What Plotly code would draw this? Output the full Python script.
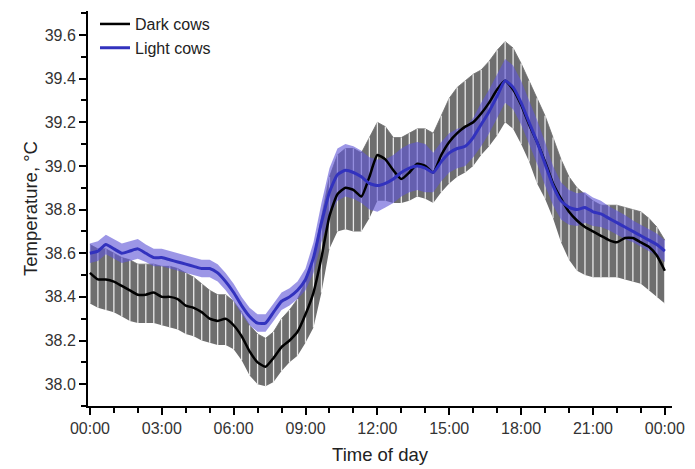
import plotly.graph_objects as go

# time of day in hours, every 20 minutes
hours = [i / 3 for i in range(73)]

dark_mean = [38.51, 38.48, 38.48, 38.47, 38.45, 38.43, 38.41, 38.41, 38.42, 38.40,
             38.40, 38.39, 38.36, 38.35, 38.33, 38.30, 38.29, 38.30, 38.27, 38.22,
             38.15, 38.10, 38.08, 38.12, 38.17, 38.20, 38.24, 38.32, 38.42, 38.58,
             38.77, 38.87, 38.90, 38.89, 38.86, 38.95, 39.05, 39.03, 38.98, 38.94,
             38.97, 39.01, 39.00, 38.97, 39.05, 39.11, 39.15, 39.18, 39.20, 39.24,
             39.29, 39.35, 39.39, 39.35, 39.28, 39.19, 39.11, 39.02, 38.92, 38.85,
             38.79, 38.75, 38.72, 38.70, 38.68, 38.66, 38.65, 38.67, 38.67, 38.65,
             38.63, 38.59, 38.52]

dark_upper = [38.64, 38.62, 38.62, 38.60, 38.58, 38.57, 38.55, 38.55, 38.55, 38.54,
              38.54, 38.53, 38.51, 38.49, 38.46, 38.43, 38.41, 38.41, 38.38, 38.33,
              38.27, 38.23, 38.21, 38.24, 38.30, 38.34, 38.39, 38.47, 38.58, 38.76,
              38.95, 39.05, 39.08, 39.08, 39.06, 39.13, 39.20, 39.18, 39.13, 39.13,
              39.15, 39.17, 39.17, 39.15, 39.23, 39.31, 39.36, 39.39, 39.42, 39.44,
              39.48, 39.53, 39.57, 39.54, 39.47, 39.39, 39.31, 39.23, 39.13, 39.03,
              38.95, 38.90, 38.87, 38.84, 38.82, 38.82, 38.82, 38.81, 38.80, 38.79,
              38.76, 38.72, 38.66]

dark_lower = [38.37, 38.35, 38.34, 38.33, 38.31, 38.29, 38.28, 38.28, 38.28, 38.27,
              38.26, 38.25, 38.23, 38.22, 38.20, 38.19, 38.18, 38.18, 38.16, 38.11,
              38.04, 38.00, 37.99, 38.01, 38.06, 38.10, 38.13, 38.19, 38.26, 38.42,
              38.62, 38.70, 38.71, 38.70, 38.70, 38.76, 38.84, 38.84, 38.83, 38.83,
              38.84, 38.86, 38.85, 38.83, 38.88, 38.92, 38.95, 38.97, 39.00, 39.05,
              39.09, 39.14, 39.20, 39.17, 39.10, 39.02, 38.92, 38.85, 38.76, 38.65,
              38.57, 38.52, 38.50, 38.49, 38.49, 38.49, 38.49, 38.48, 38.47, 38.46,
              38.43, 38.40, 38.37]

light_mean = [38.60, 38.61, 38.64, 38.62, 38.60, 38.61, 38.62, 38.60, 38.58, 38.58,
              38.57, 38.56, 38.55, 38.54, 38.53, 38.53, 38.51, 38.47, 38.42, 38.36,
              38.31, 38.28, 38.28, 38.33, 38.38, 38.40, 38.43, 38.48, 38.58, 38.74,
              38.88, 38.96, 38.98, 38.97, 38.95, 38.92, 38.91, 38.92, 38.94, 38.97,
              38.99, 39.00, 38.99, 38.97, 39.02, 39.06, 39.08, 39.09, 39.13, 39.19,
              39.25, 39.32, 39.39, 39.36, 39.29, 39.20, 39.11, 39.01, 38.91, 38.84,
              38.81, 38.80, 38.81, 38.79, 38.78, 38.76, 38.74, 38.72, 38.70, 38.68,
              38.66, 38.64, 38.61]

light_se = [0.045, 0.045, 0.045, 0.045, 0.045, 0.045, 0.045, 0.04, 0.04, 0.04,
            0.04, 0.04, 0.04, 0.04, 0.04, 0.04, 0.04, 0.04, 0.04, 0.04,
            0.04, 0.04, 0.04, 0.04, 0.04, 0.04, 0.04, 0.05, 0.07, 0.09,
            0.11, 0.12, 0.12, 0.12, 0.12, 0.12, 0.12, 0.11, 0.11, 0.11,
            0.11, 0.11, 0.11, 0.09, 0.09, 0.09, 0.09, 0.09, 0.09, 0.10,
            0.10, 0.10, 0.10, 0.10, 0.10, 0.10, 0.10, 0.10, 0.09, 0.085,
            0.08, 0.075, 0.07, 0.065, 0.06, 0.055, 0.055, 0.055, 0.05, 0.05,
            0.05, 0.05, 0.05]

tick_vals = [0, 3, 6, 9, 12, 15, 18, 21, 24]
tick_text = ["00:00", "03:00", "06:00", "09:00", "12:00", "15:00", "18:00", "21:00", "00:00"]
y_ticks = [38.0, 38.2, 38.4, 38.6, 38.8, 39.0, 39.2, 39.4, 39.6]

err_plus = [u - m for u, m in zip(dark_upper, dark_mean)]
err_minus = [m - l for m, l in zip(dark_mean, dark_lower)]
light_up = [m + s for m, s in zip(light_mean, light_se)]
light_lo = [m - s for m, s in zip(light_mean, light_se)]

fig = go.Figure()

# dark cows: gray SE band drawn as dense vertical bars (gray fill + thin white gaps)
fig.add_trace(go.Scatter(
    x=hours, y=dark_lower, mode="lines", line=dict(width=0, color="rgba(0,0,0,0)"),
    showlegend=False, hoverinfo="skip"))
fig.add_trace(go.Scatter(
    x=hours, y=dark_upper, mode="lines", line=dict(width=0.8, color="rgb(110,110,110)"),
    fill="tonexty", fillcolor="rgb(110,110,110)",
    showlegend=False, hoverinfo="skip"))
fig.add_trace(go.Scatter(
    x=hours, y=dark_mean, mode="markers",
    marker=dict(size=1, color="rgba(0,0,0,0)"),
    error_y=dict(type="data", symmetric=False, array=err_plus, arrayminus=err_minus,
                 color="rgba(255,255,255,0.85)", thickness=1.3, width=0),
    showlegend=False, hoverinfo="skip"))

# light cows SE band
fig.add_trace(go.Scatter(
    x=hours, y=light_lo, mode="lines", line=dict(width=0, color="rgba(0,0,0,0)"),
    showlegend=False, hoverinfo="skip"))
fig.add_trace(go.Scatter(
    x=hours, y=light_up, mode="lines", line=dict(width=0, color="rgba(0,0,0,0)"),
    fill="tonexty", fillcolor="rgba(95,85,215,0.62)",
    showlegend=False, hoverinfo="skip"))

fig.add_trace(go.Scatter(
    x=hours, y=dark_mean, mode="lines", name="Dark cows",
    line=dict(color="black", width=2.5, shape="spline", smoothing=0.5)))
fig.add_trace(go.Scatter(
    x=hours, y=light_mean, mode="lines", name="Light cows",
    line=dict(color="rgb(50,50,190)", width=3, shape="spline", smoothing=0.5)))

axis_font = dict(family="Liberation Sans, Arial, sans-serif", size=16, color="#333")
title_font = dict(family="Liberation Sans, Arial, sans-serif", size=18.5, color="#222")

fig.update_layout(
    width=695, height=469,
    margin=dict(l=88, r=23, t=7, b=61),
    paper_bgcolor="white", plot_bgcolor="white",
    showlegend=True,
    legend=dict(x=0.012, y=1.01, xanchor="left", yanchor="top", traceorder="normal",
                font=dict(family="Liberation Sans, Arial, sans-serif", size=16, color="#222"),
                bgcolor="rgba(0,0,0,0)", tracegroupgap=0),
    xaxis=dict(range=[-0.08, 24.3], tickmode="array", tickvals=tick_vals, ticktext=tick_text,
               showline=True, linecolor="black", linewidth=2, ticks="outside",
               ticklen=7, tickwidth=2, tickcolor="black", showgrid=False, zeroline=False,
               tickfont=axis_font,
               minor=dict(dtick=1, ticklen=5, tickwidth=2, tickcolor="black", ticks="outside", showgrid=False),
               title=dict(text="Time of day", font=title_font, standoff=12)),
    yaxis=dict(range=[37.9, 39.71], tickmode="array", tickvals=y_ticks,
               ticktext=[f"{v:.1f}" for v in y_ticks],
               showline=True, linecolor="black", linewidth=2, ticks="outside",
               ticklen=7, tickwidth=2, tickcolor="black", showgrid=False, zeroline=False,
               tickfont=axis_font,
               minor=dict(tickvals=[37.9 + 0.2 * i for i in range(10)], ticklen=5, tickwidth=2,
                          tickcolor="black", ticks="outside", showgrid=False),
               title=dict(text="Temperature, °C", font=title_font, standoff=2)),
)

fig.write_html("out.html")
